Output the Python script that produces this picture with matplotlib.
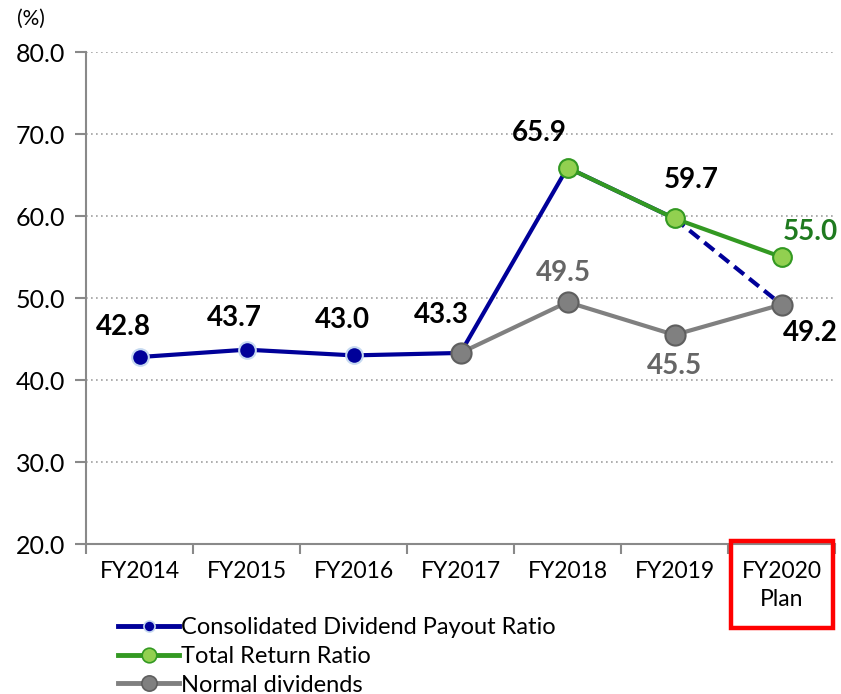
import matplotlib
matplotlib.use("Agg")
import matplotlib.pyplot as plt
from matplotlib.patches import Rectangle
from matplotlib.lines import Line2D
import numpy as np

plt.rcParams['font.family'] = ['Lato', 'DejaVu Sans']

categories = ["FY2014", "FY2015", "FY2016", "FY2017", "FY2018", "FY2019", "FY2020\nPlan"]
payout = [42.8, 43.7, 43.0, 43.3, 65.9, 59.7, 49.2]
total_return = [None, None, None, None, 65.9, 59.7, 55.0]
normal = [None, None, None, 43.3, 49.5, 45.5, 49.2]
yticks = [20.0, 30.0, 40.0, 50.0, 60.0, 70.0, 80.0]

BLUE = "#000099"
GREEN = "#339922"
GREEN_FILL = "#92D050"
GRAY = "#808080"
GRAY_EDGE = "#5F5F5F"

W, H = 841, 694
fig = plt.figure(figsize=(W / 100, H / 100), dpi=100)
ax = fig.add_axes([86 / W, 1 - 544 / H, (835 - 86) / W, (544 - 52) / H])

x = np.arange(len(categories))

# payout ratio: solid up to FY2019, dashed to FY2020
ax.plot(x[:6], payout[:6], color=BLUE, lw=3, zorder=2, solid_capstyle='round')
ax.plot(x[5:7], payout[5:7], color=BLUE, lw=3, ls=(0, (3, 1.6)), zorder=2)
ax.plot(x[:4], payout[:4], ls='none', marker='o', ms=12, mfc=BLUE, mec="#C6D9F1", mew=1.5, zorder=3)

# normal dividends
xn = [i for i, v in enumerate(normal) if v is not None]
yn = [v for v in normal if v is not None]
ax.plot(xn, yn, color=GRAY, lw=3, marker='o', ms=14.5, mfc=GRAY, mec=GRAY_EDGE, mew=1.5, zorder=4)

# total return ratio
xt = [i for i, v in enumerate(total_return) if v is not None]
yt = [v for v in total_return if v is not None]
ax.plot(xt, yt, color=GREEN, lw=3, marker='o', ms=13.5, mfc=GREEN_FILL, mec=GREEN, mew=1.5, zorder=5)

# data labels
lab_kw = dict(textcoords='offset pixels', ha='center', va='center', fontsize=20, fontweight='bold')
offsets = [(-16, 30), (-12, 32), (-11, 35), (-19, 38), (-28, 35), (17, 38)]
for i, (dx, dy) in enumerate(offsets):
    ax.annotate(f"{payout[i]:.1f}", (x[i], payout[i]), xytext=(dx, dy), color="black", **lab_kw)
ax.annotate(f"{total_return[6]:.1f}", (x[6], total_return[6]), xytext=(29, 25), color="#1F7A1F", **lab_kw)
ax.annotate(f"{normal[4]:.1f}", (x[4], normal[4]), xytext=(-4, 29), color="#666666", **lab_kw)
ax.annotate(f"{normal[5]:.1f}", (x[5], normal[5]), xytext=(0, -31), color="#666666", **lab_kw)
ax.annotate(f"{normal[6]:.1f}", (x[6], normal[6]), xytext=(29, -28), color="black", **lab_kw)

# axes styling
ax.set_xlim(-0.5, len(categories) - 0.5)
ax.set_ylim(20, 80)
ax.set_yticks(yticks)
ax.set_yticklabels([f"{v:.1f}" for v in yticks], fontsize=18)
ax.set_xticks(x)
ax.set_xticklabels(categories, fontsize=16.5, linespacing=1.45)
ax.set_xticks(np.arange(-0.5, len(categories), 1.0), minor=True)
ax.tick_params(axis='x', which='major', length=0, pad=12)
ax.tick_params(axis='x', which='minor', length=7, width=1.5, color="#898989", direction='out')
ax.tick_params(axis='y', length=8, width=1.5, color="#898989", direction='out', pad=7)
for s in ['top', 'right']:
    ax.spines[s].set_visible(False)
for s in ['left', 'bottom']:
    ax.spines[s].set_color("#898989")
    ax.spines[s].set_linewidth(1.5)
ax.yaxis.grid(True, ls=(0, (1, 2)), color="#A0A0A0", lw=1.2)
ax.set_axisbelow(True)

fig.text(31 / W, 1 - 19 / H, "(%)", fontsize=15, ha='center', va='center')

# red box around plan
fig.patches.append(Rectangle((731 / W, 1 - 628 / H), 102 / W, 87 / H, transform=fig.transFigure,
                             fill=False, ec="#FF0000", lw=3.2))

# legend
handles = [
    Line2D([], [], color=BLUE, lw=3.5, marker='o', ms=8, mfc=BLUE, mec="#C6D9F1", mew=1.2),
    Line2D([], [], color=GREEN, lw=3.5, marker='o', ms=10.5, mfc=GREEN_FILL, mec=GREEN, mew=1.2),
    Line2D([], [], color=GRAY, lw=3.5, marker='o', ms=11, mfc=GRAY, mec=GRAY_EDGE, mew=1.2),
]
labels = ["Consolidated Dividend Payout Ratio", "Total Return Ratio", "Normal dividends"]
fig.legend(handles, labels, loc='upper left', bbox_to_anchor=(118 / W, 1 - 617 / H),
           frameon=False, fontsize=17, handlelength=2.6, handletextpad=0.05,
           labelspacing=0.33, borderaxespad=0, borderpad=0)

fig.savefig("out.png", dpi=100)
